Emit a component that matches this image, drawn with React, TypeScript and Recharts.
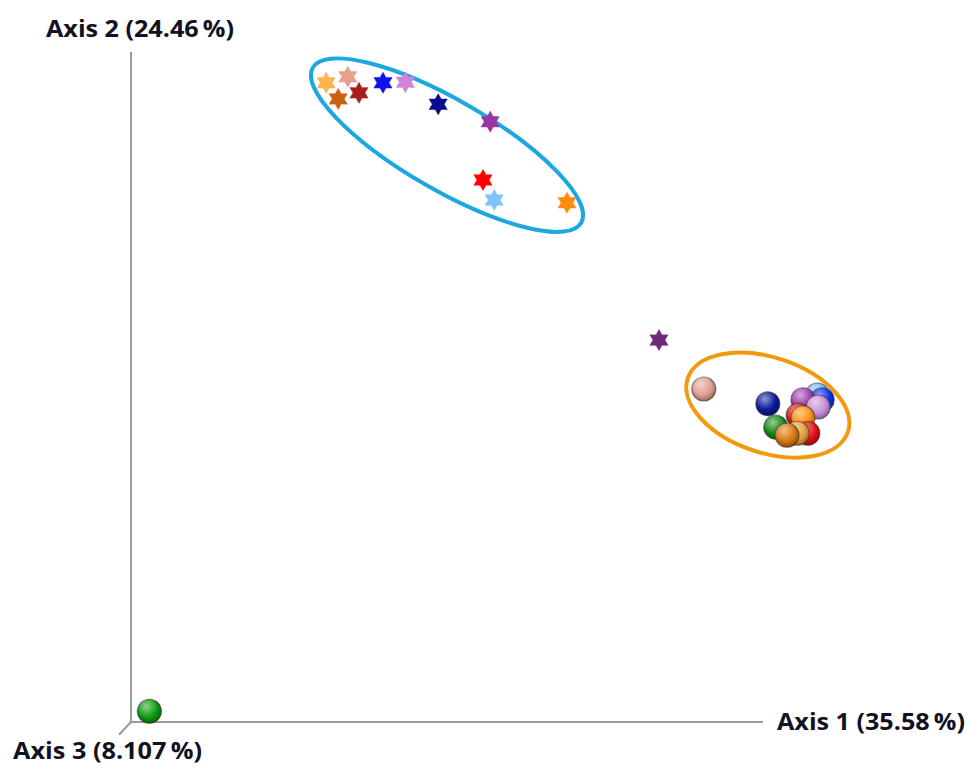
import React from "react";
import {
  ScatterChart,
  Scatter,
  XAxis,
  YAxis,
  ReferenceLine,
  ReferenceDot,
} from "recharts";

// PCoA scores (axis 1 / axis 2, rescaled 0-100)
const starX = [24.4, 27.1, 25.9, 28.5, 31.5, 34.3, 38.4, 44.9, 44.0, 45.4, 54.5, 66.0];
const starY = [95.4, 96.3, 93.0, 93.9, 95.4, 95.5, 92.2, 89.6, 80.9, 77.9, 77.5, 57.0];
const starColors = [
  "#FFB450", "#E8A08C", "#C8600F", "#A81E1E", "#1010F0", "#D282D8",
  "#0A0A90", "#9A35A5", "#FF0000", "#80C4FF", "#FF8A10", "#6E2A78",
];

const sphereX = [71.6, 79.6, 85.8, 86.4, 84.0, 85.9, 83.4, 84.0, 84.6, 80.6, 83.3, 82.0, 2.3];
const sphereY = [49.7, 47.5, 48.8, 48.1, 48.1, 47.0, 45.8, 45.4, 43.1, 44.0, 43.1, 42.8, 1.6];
const sphereColors = [
  "#E0A090", "#0A1A9A", "#80BEEA", "#0A30F0", "#A040B0", "#C890D8",
  "#E01818", "#FF9010", "#E81010", "#138A13", "#E8A040", "#D8780F", "#0F9A0F",
];

// cluster ellipse centres
const clusterX = [39.5, 79.6];
const clusterY = [86.1, 47.3];
const clusterColors = ["#1BA7E0", "#F09A0C"];

const axisLabels = ["Axis 1 (35.58\u2009%)", "Axis 2 (24.46\u2009%)", "Axis 3 (8.107\u2009%)"];

const stars = starX.map((x, i) => ({ x, y: starY[i], color: starColors[i] }));
const spheres = sphereX.map((x, i) => ({ x, y: sphereY[i], color: sphereColors[i] }));

const renderStar = (props: any) => {
  const { cx, cy } = props;
  const color = props.payload?.color ?? props.color;
  const R = 10.5;
  const r = 6;
  const pts: string[] = [];
  for (let k = 0; k < 12; k++) {
    const rad = k % 2 === 0 ? R : r;
    const a = (Math.PI / 6) * k - Math.PI / 2;
    pts.push(`${cx + rad * Math.cos(a)},${cy + rad * Math.sin(a)}`);
  }
  return <polygon points={pts.join(" ")} fill={color} stroke={color} strokeWidth={0.5} />;
};

const renderSphere = (props: any) => {
  const { cx, cy } = props;
  const color = props.payload?.color ?? props.color;
  return (
    <g>
      <circle cx={cx} cy={cy} r={12} fill={color} stroke="#333" strokeOpacity={0.55} strokeWidth={1.2} />
      <circle cx={cx} cy={cy} r={12} fill="url(#shade)" />
      <circle cx={cx} cy={cy} r={12} fill="url(#shine)" />
    </g>
  );
};

const ellipseShape = (rx: number, ry: number, angle: number, color: string) => (p: any) => (
  <ellipse
    cx={p.cx}
    cy={p.cy}
    rx={rx}
    ry={ry}
    transform={`rotate(${angle} ${p.cx} ${p.cy})`}
    fill="none"
    stroke={color}
    strokeWidth={4}
  />
);

const labelStyle: React.CSSProperties = {
  fontFamily: "'Open Sans', Lato, sans-serif",
  fontWeight: 700,
  fontSize: 23,
  fill: "#111122",
};

export default function App() {
  return (
    <div style={{ position: "absolute", left: 0, top: 0, width: 968, height: 767, background: "#fff" }}>
      <ScatterChart
        width={968}
        height={767}
        margin={{ top: 52, right: 37, bottom: 45, left: 131 }}
      >
        <defs>
          <radialGradient id="shine" cx="38%" cy="30%" r="45%">
            <stop offset="0%" stopColor="#fff" stopOpacity={0.55} />
            <stop offset="100%" stopColor="#fff" stopOpacity={0} />
          </radialGradient>
          <radialGradient id="shade" cx="45%" cy="40%" r="60%">
            <stop offset="60%" stopColor="#000" stopOpacity={0} />
            <stop offset="100%" stopColor="#000" stopOpacity={0.35} />
          </radialGradient>
        </defs>
        <XAxis type="number" dataKey="x" domain={[0, 100]} hide />
        <YAxis type="number" dataKey="y" domain={[0, 100]} hide />
        <ReferenceLine segment={[{ x: 0, y: 0 }, { x: 0, y: 100 }]} stroke="#9a9a9a" strokeWidth={2} />
        <ReferenceLine segment={[{ x: 0, y: 0 }, { x: 79, y: 0 }]} stroke="#9a9a9a" strokeWidth={2} />
        <ReferenceLine
          segment={[{ x: 0, y: 0 }, { x: -1.5, y: -1.9 }]}
          stroke="#9a9a9a"
          strokeWidth={2}
          ifOverflow="visible"
        />
        <ReferenceDot
          x={clusterX[0]}
          y={clusterY[0]}
          r={0}
          shape={ellipseShape(155, 45, 30, clusterColors[0])}
        />
        <ReferenceDot
          x={clusterX[1]}
          y={clusterY[1]}
          r={0}
          shape={ellipseShape(84.5, 47.6, 18.5, clusterColors[1])}
        />
        <Scatter data={stars} shape={renderStar} isAnimationActive={false} />
        <Scatter data={spheres} shape={renderSphere} isAnimationActive={false} />
      </ScatterChart>
      <svg
        width={968}
        height={767}
        style={{ position: "absolute", left: 0, top: 0, pointerEvents: "none" }}
      >
        <text x={46} y={37} style={labelStyle} textLength={188} lengthAdjust="spacingAndGlyphs">
          {axisLabels[1]}
        </text>
        <text x={777} y={730} style={labelStyle} textLength={188} lengthAdjust="spacingAndGlyphs">
          {axisLabels[0]}
        </text>
        <text x={13} y={759} style={labelStyle} textLength={189} lengthAdjust="spacingAndGlyphs">
          {axisLabels[2]}
        </text>
      </svg>
    </div>
  );
}
